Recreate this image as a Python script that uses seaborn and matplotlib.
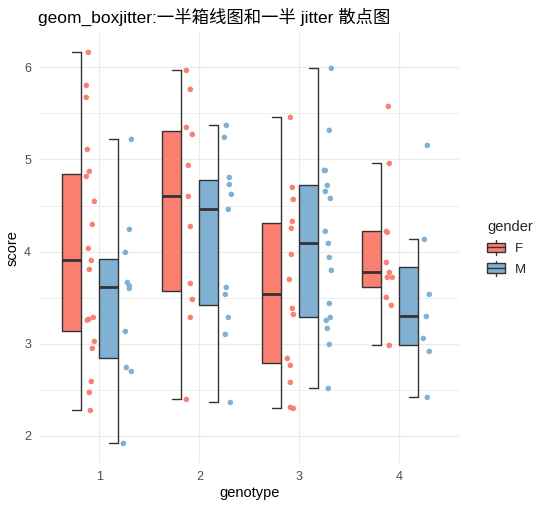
import pandas as pd
import seaborn as sns
import matplotlib.pyplot as plt
from matplotlib.patches import Rectangle
from matplotlib.lines import Line2D
from matplotlib.legend_handler import HandlerBase

# ---- data ----
genotypes = [1, 2, 3, 4]
genders = ["F", "M"]
colors = {"F": "#FB8072", "M": "#80B1D3"}

# box statistics (lower whisker, q1, median, q3, upper whisker) per genotype
f_low = [2.275, 2.395, 2.297, 2.981]
f_q1 = [3.133, 3.568, 2.786, 3.611]
f_med = [3.911, 4.606, 3.539, 3.781]
f_q3 = [4.838, 5.305, 4.306, 4.219]
f_high = [6.163, 5.967, 5.457, 4.957]

m_low = [1.917, 2.362, 2.514, 2.417]
m_q1 = [2.840, 3.416, 3.285, 2.981]
m_med = [3.615, 4.461, 4.096, 3.303]
m_q3 = [3.915, 4.773, 4.718, 3.828]
m_high = [5.218, 5.370, 5.989, 4.132]

# raw scores shown as jitter points
f1 = [6.163, 5.804, 5.674, 5.109, 4.870, 4.816, 4.545, 4.295, 4.034, 3.904,
      3.806, 3.285, 3.264, 3.256, 3.025, 2.949, 2.590, 2.471, 2.275]
f2 = [5.967, 5.761, 5.348, 5.272, 4.936, 4.599, 4.273, 3.654, 3.481, 3.285, 2.395]
f3 = [5.457, 4.697, 4.566, 4.328, 4.252, 3.969, 3.698, 3.383, 3.318, 2.840,
      2.764, 2.580, 2.308, 2.297]
f4 = [5.576, 4.957, 4.219, 4.209, 3.882, 3.774, 3.720, 3.720, 3.502, 3.416, 2.981]
m1 = [5.218, 4.241, 3.991, 3.665, 3.629, 3.600, 3.133, 2.742, 2.699, 1.917]
m2 = [5.370, 5.240, 4.805, 4.729, 4.621, 4.458, 3.611, 3.535, 3.285, 3.101, 2.362]
m3 = [5.989, 5.316, 4.881, 4.881, 4.718, 4.653, 4.577, 4.219, 4.089, 3.937,
      3.796, 3.437, 3.285, 3.253, 3.166, 2.992, 2.514]
m4 = [5.153, 4.132, 3.535, 3.296, 3.057, 2.916, 2.417]

# horizontal jitter of each point (fraction of the jitter band), as seen
f1_jit = [0.25, 0, 0, 0.125, 0.375, 0, 1, 0.75, 0.25, 0.625, 0.375, 0.875, 0.3,
          0.125, 1, 0.75, 0.625, 0.375, 0.5]
f2_jit = [0, 0.5, 0, 0.75, 0.25, 0.25, 0.5, 0.5, 0.75, 0.5, 0]
f3_jit = [0.5, 0.75, 0.875, 0.75, 0.625, 0.625, 0.375, 0.75, 0.875, 0.125, 0.5,
          0.5, 0.5, 0.875]
f4_jit = [0.25, 0.375, 0, 0.125, 0, 0.375, 0.125, 0.75, 0, 0.625, 0.375]
m1_jit = [1, 0.75, 0.25, 0.5, 0.75, 0.75, 0.25, 0.375, 1, 0]
m2_jit = [0.375, 0.125, 0.75, 0.75, 1, 0.625, 0.375, 0.25, 0.625, 0.25, 0.875]
m3_jit = [1, 0.75, 0.125, 0.25, 0.5, 0.25, 0.875, 0.25, 0.625, 0.75, 1, 0.75,
          0.875, 0.375, 0.5, 0.75, 0.625]
m4_jit = [0.5, 0.125, 0.75, 0.375, 0, 0.75, 0.5]

# ---- build a long table ----
scores = {"F": [f1, f2, f3, f4], "M": [m1, m2, m3, m4]}
jitters = {"F": [f1_jit, f2_jit, f3_jit, f4_jit], "M": [m1_jit, m2_jit, m3_jit, m4_jit]}
rows = []
for gd in genders:
    for g, vals, jit in zip(genotypes, scores[gd], jitters[gd]):
        for v, j in zip(vals, jit):
            rows.append({"genotype": g, "gender": gd, "score": v, "jitter": j})
df = pd.DataFrame(rows)

box_left = {"F": -0.37, "M": 0.0}
box_w = 0.185
jit_left = {"F": -0.13, "M": 0.24}
jit_w = 0.08
df["xpos"] = df["genotype"] + df["gender"].map(jit_left) + df["jitter"] * jit_w

stats = {"F": (f_low, f_q1, f_med, f_q3, f_high),
         "M": (m_low, m_q1, m_med, m_q3, m_high)}

EDGE = "#333333"

# ---- theme ----
sns.set_theme(style="whitegrid")
plt.rcParams["font.family"] = ["Liberation Sans", "Noto Sans CJK SC"]

fig = plt.figure(figsize=(5.41, 5.08), dpi=100)
ax = fig.add_axes([0.0727, 0.0886, 0.7763, 0.8468])

# half boxes with one-sided whiskers
for gd in genders:
    lo, q1, med, q3, hi = stats[gd]
    for i, g in enumerate(genotypes):
        x0 = g + box_left[gd]
        x1 = x0 + box_w
        xc = x0 + box_w / 2
        ax.add_patch(Rectangle((x0, q1[i]), box_w, q3[i] - q1[i],
                               facecolor=colors[gd], edgecolor=EDGE, lw=1.0, zorder=2))
        ax.plot([x0, x1], [med[i], med[i]], color=EDGE, lw=2.0, zorder=3,
                solid_capstyle="butt")
        ax.plot([x1, x1], [lo[i], q1[i]], color=EDGE, lw=1.0, zorder=2)
        ax.plot([x1, x1], [q3[i], hi[i]], color=EDGE, lw=1.0, zorder=2)
        ax.plot([xc, x1], [lo[i], lo[i]], color=EDGE, lw=1.0, zorder=2)
        ax.plot([xc, x1], [hi[i], hi[i]], color=EDGE, lw=1.0, zorder=2)

# jitter points
sns.scatterplot(data=df, x="xpos", y="score", hue="gender", palette=colors,
                s=16, linewidth=0, legend=False, ax=ax, zorder=4)

# axes formatting (theme_minimal look)
ax.set_xlim(0.4, 4.6)
ax.set_ylim(1.705, 6.375)
ax.set_xticks(genotypes)
ax.set_xticklabels([str(g) for g in genotypes])
ax.set_yticks([2, 3, 4, 5, 6])
ax.set_yticks([2.5, 3.5, 4.5, 5.5], minor=True)
ax.grid(which="major", color="#EBEBEB", lw=0.9)
ax.grid(which="minor", axis="y", color="#EBEBEB", lw=0.6)
ax.set_axisbelow(True)
for s in ax.spines.values():
    s.set_visible(False)
ax.tick_params(axis="both", which="both", length=0, labelsize=9, labelcolor="#4D4D4D")
ax.tick_params(axis="x", pad=6)
ax.tick_params(axis="y", pad=6)
ax.set_xlabel("genotype", fontsize=10.5, color="black", labelpad=2)
ax.set_ylabel("score", fontsize=10.5, color="black", labelpad=3)

fig.text(0.07, 0.966, "geom_boxjitter:一半箱线图和一半 jitter 散点图",
         fontsize=12.5, va="center", ha="left", color="black")


# legend with box-shaped keys
class BoxKeyHandler(HandlerBase):
    def create_artists(self, legend, orig_handle, xdescent, ydescent,
                       width, height, fontsize, trans):
        x0, y0 = -xdescent, -ydescent
        pad = height * 0.17
        xc = x0 + width / 2
        arts = [
            Line2D([xc, xc], [y0, y0 + height], color=EDGE, lw=1.0, transform=trans),
            Rectangle((x0, y0 + pad), width, height - 2 * pad,
                      facecolor=orig_handle.get_facecolor(), edgecolor=EDGE,
                      lw=1.0, transform=trans),
            Line2D([x0, x0 + width], [y0 + height / 2] * 2, color=EDGE, lw=1.0,
                   transform=trans),
        ]
        return arts


handles = [Rectangle((0, 0), 1, 1, facecolor=colors[gd]) for gd in genders]
leg = fig.legend(handles, genders, title="gender", loc="center left",
                 bbox_to_anchor=(0.888, 0.512), frameon=False, fontsize=9.5,
                 title_fontsize=10.5, handlelength=1.4, handleheight=1.35,
                 labelspacing=0.45, handletextpad=0.7, borderpad=0,
                 alignment="left", handler_map={Rectangle: BoxKeyHandler()})

fig.savefig("out.png", dpi=100)
